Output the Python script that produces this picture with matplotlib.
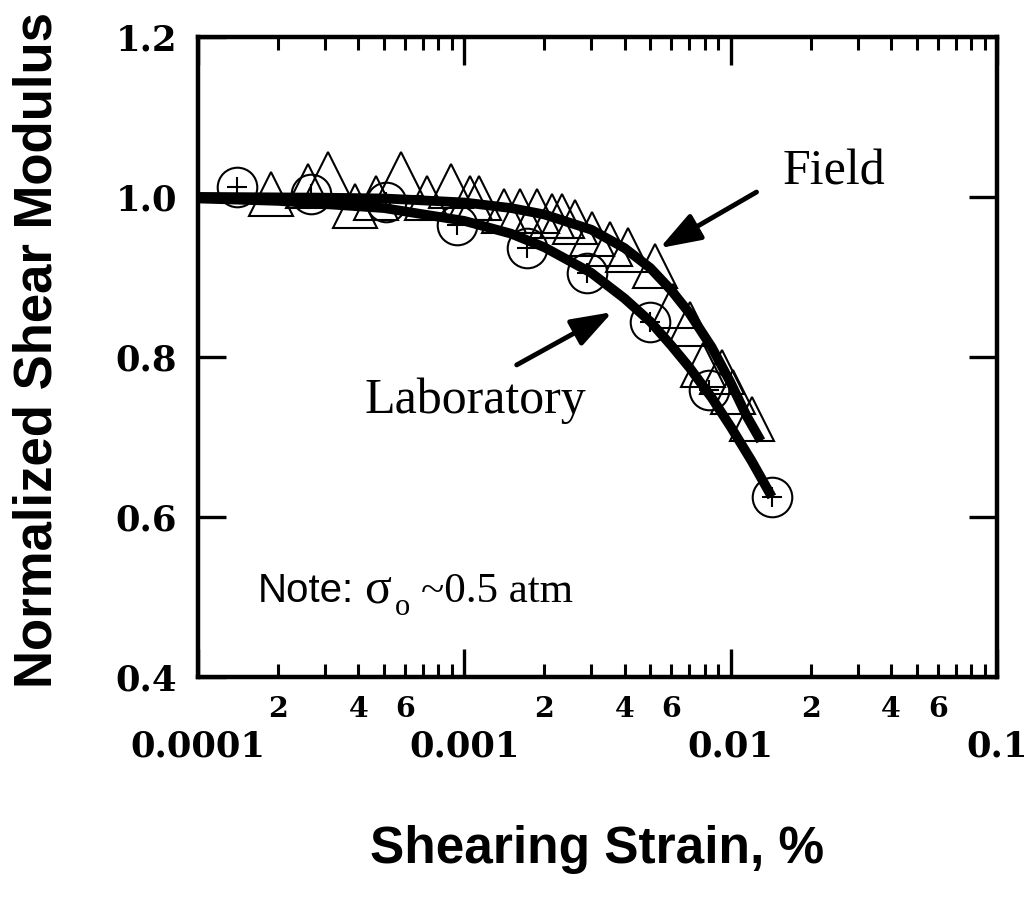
import matplotlib
matplotlib.use('Agg')
import matplotlib.pyplot as plt
from matplotlib.ticker import LogLocator, FuncFormatter, NullLocator

# laboratory points (circles with +)
lab_strain = [1.40e-4, 2.66e-4, 5.1e-4, 9.4e-4, 1.72e-3, 2.88e-3, 4.97e-3, 8.3e-3, 1.43e-2]
lab_modulus = [1.012, 1.003, 0.994, 0.965, 0.936, 0.905, 0.844, 0.759, 0.625]

# field points (triangles)
field_strain = [1.88e-4, 2.59e-4, 3.07e-4, 3.88e-4, 4.66e-4, 5.78e-4, 7.23e-4, 8.9e-4,
                1.05e-3, 1.14e-3, 1.41e-3, 1.62e-3, 1.87e-3, 2.13e-3, 2.32e-3, 2.60e-3,
                3.01e-3, 3.52e-3, 4.11e-3, 5.19e-3, 6.06e-3, 7.02e-3, 7.85e-3, 9.25e-3,
                1.02e-2, 1.20e-2]
field_modulus = [1.004, 1.013, 1.028, 0.989, 0.998, 1.028, 0.998, 1.013,
                 0.998, 0.998, 0.982, 0.982, 0.982, 0.976, 0.976, 0.968,
                 0.954, 0.941, 0.934, 0.914, 0.864, 0.841, 0.790, 0.781,
                 0.756, 0.722]

# fitted curves
lab_fit_strain = [1e-4, 2e-4, 5e-4, 1e-3, 1.5e-3, 2e-3, 3e-3, 4e-3, 5e-3, 6e-3, 7e-3,
                  8.5e-3, 1e-2, 1.2e-2, 1.43e-2]
lab_fit_modulus = [0.998, 0.995, 0.986, 0.970, 0.954, 0.937, 0.905, 0.873, 0.844, 0.814,
                   0.787, 0.749, 0.713, 0.670, 0.625]
field_fit_strain = [1e-4, 3e-4, 5e-4, 1e-3, 1.5e-3, 2e-3, 3e-3, 4e-3, 5e-3, 6e-3, 7e-3,
                    8.5e-3, 1e-2, 1.15e-2, 1.3e-2]
field_fit_modulus = [1.000, 0.999, 0.998, 0.993, 0.986, 0.978, 0.959, 0.936, 0.911, 0.883,
                     0.855, 0.812, 0.768, 0.726, 0.695]

y_ticks = [0.4, 0.6, 0.8, 1.0, 1.2]
minor_labels = [2, 4, 6]

tick_font = 'DejaVu Serif'
serif = 'Liberation Serif'
sans = 'Liberation Sans'

fig = plt.figure(figsize=(10.34, 8.99), dpi=100)
ax = fig.add_axes([0.1915, 0.247, 0.7725, 0.712])

ax.plot(field_strain, field_modulus, linestyle='none', marker='^', markersize=31,
        markerfacecolor='none', markeredgecolor='black', markeredgewidth=1.5, zorder=2)
ax.plot(lab_strain, lab_modulus, linestyle='none', marker='o', markersize=28.5,
        markerfacecolor='none', markeredgecolor='black', markeredgewidth=1.5, zorder=2)
ax.plot(lab_strain, lab_modulus, linestyle='none', marker='+', markersize=14,
        markeredgecolor='black', markeredgewidth=1.5, zorder=2)

ax.plot(field_fit_strain, field_fit_modulus, color='black', lw=7, solid_capstyle='butt', zorder=3)
ax.plot(lab_fit_strain, lab_fit_modulus, color='black', lw=7, solid_capstyle='butt', zorder=3)

ax.set_xscale('log')
ax.set_xlim(1e-4, 1e-1)
ax.set_ylim(0.4, 1.2)
ax.set_yticks(y_ticks)
ax.set_yticklabels(['%.1f' % v for v in y_ticks])
ax.yaxis.set_minor_locator(NullLocator())

ax.xaxis.set_major_locator(LogLocator(base=10, numticks=10))
ax.xaxis.set_minor_locator(LogLocator(base=10, subs=range(2, 10), numticks=20))
ax.xaxis.set_major_formatter(FuncFormatter(lambda v, p: '%g' % v))


def minor_fmt(v, p):
    m = int(round(v / 10 ** int(f'{v:e}'.split('e')[1])))
    return str(m) if m in minor_labels else ''


ax.xaxis.set_minor_formatter(FuncFormatter(minor_fmt))

for s in ax.spines.values():
    s.set_linewidth(3.2)

ax.tick_params(axis='both', which='both', direction='in', top=True, right=True)
ax.tick_params(axis='both', which='major', length=20, width=2.4)
ax.tick_params(axis='x', which='minor', length=9.5, width=2.2, pad=14)
ax.tick_params(axis='x', which='major', pad=38)
ax.tick_params(axis='y', which='major', pad=15)

for lab in ax.get_xticklabels() + ax.get_yticklabels():
    lab.set_fontfamily(tick_font)
    lab.set_fontweight('bold')
    lab.set_fontsize(25.5)
for lab in ax.get_xticklabels(minor=True):
    lab.set_fontfamily(tick_font)
    lab.set_fontweight('bold')
    lab.set_fontsize(20.5)

# annotations
ax.text(0.732, 0.769, 'Field', transform=ax.transAxes, fontsize=36, family=serif,
        ha='left', va='baseline')
ax.text(0.209, 0.4125, 'Laboratory', transform=ax.transAxes, fontsize=36, family=serif,
        ha='left', va='baseline')

arrow = dict(arrowstyle='-|>,head_length=1.0,head_width=0.35', lw=3.5, color='black',
             mutation_scale=25, shrinkA=0, shrinkB=0)
ax.annotate('', xy=(5.42e-3, 0.936), xytext=(1.252e-2, 1.006), arrowprops=arrow, zorder=4)
ax.annotate('', xy=(3.6e-3, 0.856), xytext=(1.574e-3, 0.79), arrowprops=arrow, zorder=4)

ax.text(0.075, 0.117, 'Note:', transform=ax.transAxes, fontsize=29, family=sans,
        ha='left', va='baseline')
ax.text(0.208, 0.117, 'σ', transform=ax.transAxes, fontsize=36,
        family=serif, ha='left', va='baseline')
ax.text(0.247, 0.096, 'o', transform=ax.transAxes, fontsize=22,
        family=serif, ha='left', va='baseline')
ax.text(0.279, 0.117, '~0.5 atm', transform=ax.transAxes, fontsize=31,
        family=serif, ha='left', va='baseline')

fig.text(597 / 1034, 1 - 850 / 899, 'Shearing Strain, %', fontsize=37, family=sans,
         fontweight='bold', ha='center', va='center')
fig.text(38 / 1034, 1 - 350 / 899, 'Normalized Shear Modulus', fontsize=38, family=sans,
         fontweight='bold', ha='center', va='center', rotation=90)

fig.savefig('out.png', dpi=100)
